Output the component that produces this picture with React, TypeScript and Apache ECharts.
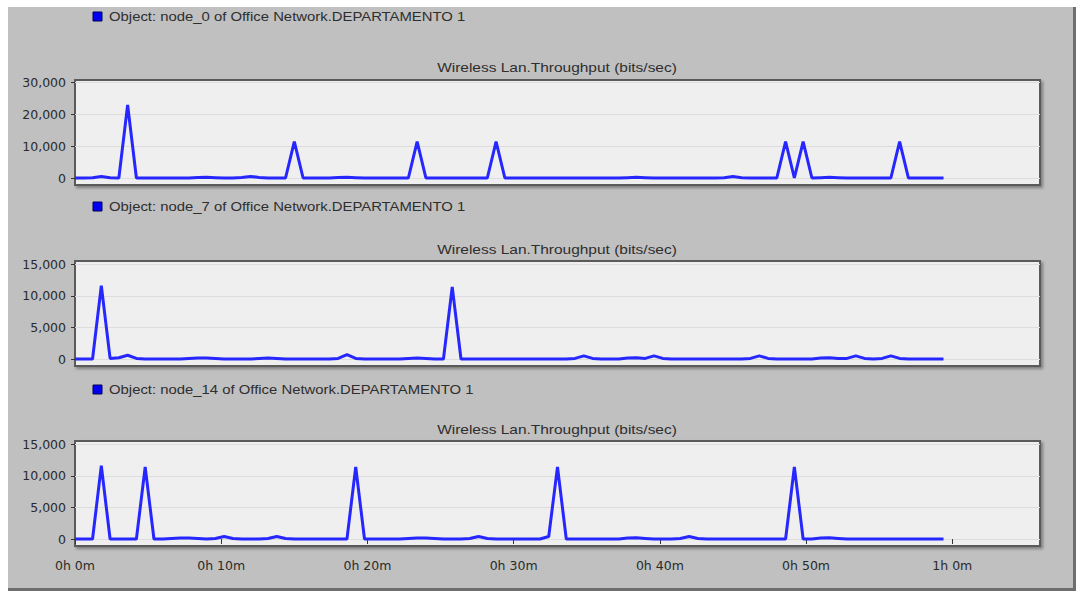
import React, { useEffect, useRef } from "react";
import * as echarts from "echarts";

// Sample times (minutes)
const TIME_MIN = [
  0, 0.6, 1.2, 1.8, 2.4, 3, 3.6, 4.2, 4.8, 5.4,
  6, 6.6, 7.2, 7.8, 8.4, 9, 9.6, 10.2, 10.8, 11.4,
  12, 12.6, 13.2, 13.8, 14.4, 15, 15.6, 16.2, 16.8, 17.4,
  18, 18.6, 19.2, 19.8, 20.4, 21, 21.6, 22.2, 22.8, 23.4,
  24, 24.6, 25.2, 25.8, 26.4, 27, 27.6, 28.2, 28.8, 29.4,
  30, 30.6, 31.2, 31.8, 32.4, 33, 33.6, 34.2, 34.8, 35.4,
  36, 36.6, 37.2, 37.8, 38.4, 39, 39.6, 40.2, 40.8, 41.4,
  42, 42.6, 43.2, 43.8, 44.4, 45, 45.6, 46.2, 46.8, 47.4,
  48, 48.6, 49.2, 49.8, 50.4, 51, 51.6, 52.2, 52.8, 53.4,
  54, 54.6, 55.2, 55.8, 56.4, 57, 57.6, 58.2, 58.8, 59.4,
];

const NODE_0 = [
  0, 0, 100, 500, 100, 0, 23000, 0, 0, 0,
  0, 0, 0, 0, 150, 200, 100, 0, 0, 150,
  500, 150, 0, 0, 0, 11400, 0, 0, 0, 0,
  150, 200, 100, 0, 0, 0, 0, 0, 0, 11400,
  0, 0, 0, 0, 0, 0, 0, 0, 11400, 0,
  0, 0, 0, 0, 0, 0, 0, 0, 0, 0,
  0, 0, 0, 100, 200, 100, 0, 0, 0, 0,
  0, 0, 0, 0, 100, 500, 100, 0, 0, 0,
  0, 11400, 0, 11400, 0, 100, 200, 100, 0, 0,
  0, 0, 0, 0, 11400, 0, 0, 0, 0, 0,
];

const NODE_7 = [
  0, 0, 0, 11600, 100, 200, 600, 100, 0, 0,
  0, 0, 0, 100, 150, 150, 100, 0, 0, 0,
  0, 100, 150, 100, 0, 0, 0, 0, 0, 0,
  100, 700, 100, 0, 0, 0, 0, 0, 100, 150,
  100, 0, 0, 11400, 0, 0, 0, 0, 0, 0,
  0, 0, 0, 0, 0, 0, 0, 100, 500, 100,
  0, 0, 0, 150, 200, 100, 500, 100, 0, 0,
  0, 0, 0, 0, 0, 0, 0, 100, 500, 100,
  0, 0, 0, 0, 0, 150, 200, 100, 100, 500,
  100, 0, 100, 500, 100, 0, 0, 0, 0, 0,
];

const NODE_14 = [
  0, 0, 0, 11600, 0, 0, 0, 0, 11400, 0,
  0, 100, 150, 150, 100, 0, 100, 400, 100, 0,
  0, 0, 100, 400, 100, 0, 0, 0, 0, 0,
  0, 0, 11400, 0, 0, 0, 0, 0, 100, 150,
  150, 100, 0, 0, 0, 100, 400, 100, 0, 0,
  0, 0, 0, 0, 400, 11400, 0, 0, 0, 0,
  0, 0, 0, 150, 200, 100, 0, 0, 0, 100,
  400, 100, 0, 0, 0, 0, 0, 0, 0, 0,
  0, 0, 11400, 0, 0, 150, 200, 100, 0, 0,
  0, 0, 0, 0, 0, 0, 0, 0, 0, 0,
];

const SERIES_NAMES = [
  "Object: node_0 of Office Network.DEPARTAMENTO 1",
  "Object: node_7 of Office Network.DEPARTAMENTO 1",
  "Object: node_14 of Office Network.DEPARTAMENTO 1",
];
const PANEL_TITLE = "Wireless Lan.Throughput (bits/sec)";
const Y_TICKS_0 = [0, 10000, 20000, 30000];
const Y_TICKS_1 = [0, 5000, 10000, 15000];
const Y_TICKS_2 = [0, 5000, 10000, 15000];
const X_TICKS_MIN = [0, 10, 20, 30, 40, 50, 60];

const SERIES_DATA = [NODE_0, NODE_7, NODE_14];
const Y_TICKS = [Y_TICKS_0, Y_TICKS_1, Y_TICKS_2];
const Y_RANGES = [
  [-2200, 30800],
  [-1100, 15500],
  [-1100, 15500],
];

// layout (pixels)
const GRID_TOPS = [80, 261, 441];
const GRID_HEIGHT = 105;
const GRID_LEFT = 75;
const GRID_RIGHT = 40;
const LEGEND_Y = [17, 207, 390];
const TITLE_Y = [68, 250, 430];

const fmtThousands = (v: number) => Number(v).toLocaleString("en-US");
const fmtTime = (v: number) => `${Math.floor(v / 60)}h ${Math.round(v % 60)}m`;

export default function App() {
  const ref = useRef<HTMLDivElement>(null);

  useEffect(() => {
    if (!ref.current) return;
    const chart = echarts.init(ref.current, undefined, { renderer: "svg" });

    const grids = GRID_TOPS.map((top) => ({
      left: GRID_LEFT,
      right: GRID_RIGHT,
      top,
      height: GRID_HEIGHT,
      show: true,
      backgroundColor: "#efefef",
      borderColor: "#5a5a5a",
      borderWidth: 2,
      shadowColor: "rgba(0,0,0,0.35)",
      shadowBlur: 3,
      shadowOffsetX: 2,
      shadowOffsetY: 2,
      containLabel: false,
    }));

    const xAxes = [0, 1, 2].map((i) => ({
      type: "value",
      gridIndex: i,
      min: 0,
      max: 66,
      interval: 10,
      show: i === 2,
      axisLine: { show: false },
      splitLine: { show: false },
      axisTick: {
        show: true,
        length: 5,
        lineStyle: { color: "#333", width: 1 },
        customValues: X_TICKS_MIN,
      },
      axisLabel: {
        customValues: X_TICKS_MIN,
        formatter: fmtTime,
        color: "#2a2a2a",
        fontFamily: "DejaVu Sans",
        fontSize: 12.5,
        margin: 13,
      },
    }));

    const yAxes = [0, 1, 2].map((i) => ({
      type: "value",
      gridIndex: i,
      min: Y_RANGES[i][0],
      max: Y_RANGES[i][1],
      axisLine: { show: false },
      axisTick: {
        show: true,
        length: 4,
        lineStyle: { color: "#333", width: 1 },
        customValues: Y_TICKS[i],
      },
      axisLabel: {
        customValues: Y_TICKS[i],
        formatter: fmtThousands,
        color: "#2a2a2a",
        fontFamily: "DejaVu Sans",
        fontSize: 12.5,
        margin: 9,
      },
      splitLine: {
        show: true,
        lineStyle: { color: "#dcdcdc", width: 1 },
      },
    }));

    const series = [0, 1, 2].map((i) => ({
      type: "line",
      name: SERIES_NAMES[i],
      xAxisIndex: i,
      yAxisIndex: i,
      data: TIME_MIN.map((t, k) => [t, SERIES_DATA[i][k]]),
      showSymbol: false,
      symbol: "none",
      lineStyle: { color: "#2626ff", width: 3 },
      itemStyle: { color: "#2626ff" },
      z: 5,
    }));

    const graphic: any[] = [
      // white page margins & frame shadow
      { type: "rect", shape: { x: 0, y: 0, width: 1080, height: 7 }, style: { fill: "#ffffff" }, z: 100 },
      { type: "rect", shape: { x: 0, y: 0, width: 8, height: 594 }, style: { fill: "#ffffff" }, z: 100 },
      { type: "rect", shape: { x: 1073, y: 7, width: 3, height: 584 }, style: { fill: "#6e6e6e" }, z: 100 },
      { type: "rect", shape: { x: 1076, y: 0, width: 4, height: 594 }, style: { fill: "#ffffff" }, z: 100 },
      { type: "rect", shape: { x: 8, y: 588, width: 1068, height: 3 }, style: { fill: "#6e6e6e" }, z: 100 },
      { type: "rect", shape: { x: 0, y: 591, width: 1080, height: 3 }, style: { fill: "#ffffff" }, z: 100 },
    ];

    [0, 1, 2].forEach((i) => {
      graphic.push({
        type: "rect",
        shape: { x: 93, y: LEGEND_Y[i] - 5, width: 9, height: 9 },
        style: { fill: "#0000f0", stroke: "#00005a", lineWidth: 1 },
        z: 100,
      });
      graphic.push({
        type: "text",
        x: 109,
        y: LEGEND_Y[i],
        scaleX: 1.24,
        style: {
          text: SERIES_NAMES[i],
          fill: "#2e2e2e",
          font: '12px "Liberation Sans", Arial, sans-serif',
          textAlign: "left",
          textVerticalAlign: "middle",
        },
        z: 100,
      });
      graphic.push({
        type: "text",
        x: 557,
        y: TITLE_Y[i],
        scaleX: 1.29,
        style: {
          text: PANEL_TITLE,
          fill: "#2e2e2e",
          font: '12px "Liberation Sans", Arial, sans-serif',
          textAlign: "center",
          textVerticalAlign: "middle",
        },
        z: 100,
      });
    });

    chart.setOption({
      animation: false,
      backgroundColor: "#c0c0c0",
      grid: grids,
      xAxis: xAxes,
      yAxis: yAxes,
      series,
      graphic,
    });

    return () => chart.dispose();
  }, []);

  return (
    <div
      ref={ref}
      style={{ position: "absolute", left: 0, top: 0, width: 1080, height: 594 }}
    />
  );
}
